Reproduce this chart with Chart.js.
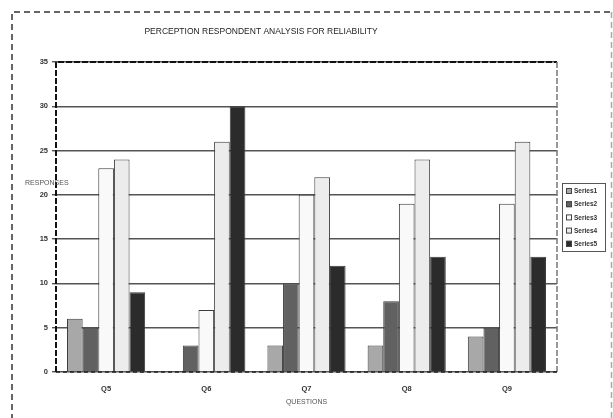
<!DOCTYPE html>
<html>
<head>
<meta charset="utf-8">
<script src="https://cdn.jsdelivr.net/npm/chart.js@4.4.1/dist/chart.umd.min.js"></script>
<style>
  html, body { margin: 0; padding: 0; background: #fff; }
  #wrap { width: 613px; height: 418px; position: relative; }
</style>
</head>
<body>
<div id="wrap"><canvas id="c" width="613" height="418"></canvas></div>
<script>
// Survey responses per question, one list per series
const questions = ['Q5', 'Q6', 'Q7', 'Q8', 'Q9'];
const seriesNames = ['Series1', 'Series2', 'Series3', 'Series4', 'Series5'];
const series1 = [6, 0, 3, 3, 4];
const series2 = [5, 3, 10, 8, 5];
const series3 = [23, 7, 20, 19, 19];
const series4 = [24, 26, 22, 24, 26];
const series5 = [9, 30, 12, 13, 13];
const yTicks = [0, 5, 10, 15, 20, 25, 30, 35];

const fills = ['#a8a8a8', '#616161', '#f9f9f9', '#ececec', '#2b2b2b'];
const values = [series1, series2, series3, series4, series5];

const FONT = '"Liberation Sans", Arial, sans-serif';

// Frames, titles and the boxed legend drawn around the plot
const decorations = {
  id: 'decorations',
  beforeDraw(chart) {
    const ctx = chart.ctx;
    ctx.save();
    ctx.fillStyle = '#fff';
    ctx.fillRect(0, 0, chart.width, chart.height);
    ctx.restore();
  },
  afterDraw(chart) {
    const ctx = chart.ctx;
    const a = chart.chartArea;
    ctx.save();

    // outer dashed frame
    ctx.strokeStyle = '#333';
    ctx.lineWidth = 1.5;
    ctx.setLineDash([6, 4]);
    ctx.beginPath();
    ctx.moveTo(12, 430);
    ctx.lineTo(12, 12);
    ctx.lineTo(chart.width - 1.5, 12);
    ctx.stroke();
    ctx.strokeStyle = '#aaa';
    ctx.beginPath();
    ctx.moveTo(chart.width - 1.5, 12);
    ctx.lineTo(chart.width - 1.5, 430);
    ctx.stroke();

    // dashed plot-area frame
    ctx.strokeStyle = '#111';
    ctx.lineWidth = 2;
    ctx.setLineDash([6, 2]);
    ctx.beginPath();
    ctx.moveTo(a.left, a.bottom);
    ctx.lineTo(a.left, a.top);
    ctx.lineTo(a.right, a.top);
    ctx.stroke();
    ctx.strokeStyle = '#777';
    ctx.lineWidth = 1.5;
    ctx.beginPath();
    ctx.moveTo(a.right, a.top);
    ctx.lineTo(a.right, a.bottom);
    ctx.stroke();
    ctx.strokeStyle = '#222';
    ctx.lineWidth = 1.5;
    ctx.setLineDash([4, 3]);
    ctx.beginPath();
    ctx.moveTo(a.left, a.bottom);
    ctx.lineTo(a.right, a.bottom);
    ctx.stroke();
    ctx.setLineDash([]);

    // chart title
    ctx.fillStyle = '#222';
    ctx.font = '8.5px ' + FONT;
    ctx.textAlign = 'center';
    ctx.textBaseline = 'middle';
    ctx.fillText('PERCEPTION RESPONDENT ANALYSIS FOR RELIABILITY', 261, 32);

    // axis titles
    ctx.fillStyle = '#555';
    ctx.font = '7px ' + FONT;
    ctx.textAlign = 'left';
    ctx.fillText('RESPONSES', 25, 183);
    ctx.textAlign = 'center';
    ctx.fillText('QUESTIONS', (a.left + a.right) / 2, 402);

    // legend
    const lx = 562, ly = 183, lw = 43, lh = 68;
    ctx.fillStyle = '#fff';
    ctx.fillRect(lx, ly, lw, lh);
    ctx.strokeStyle = '#555';
    ctx.lineWidth = 1;
    ctx.strokeRect(lx + 0.5, ly + 0.5, lw, lh);
    ctx.font = 'bold 6.5px ' + FONT;
    ctx.textAlign = 'left';
    chart.data.datasets.forEach((ds, i) => {
      const y = 191 + i * 13.2;
      ctx.fillStyle = ds.backgroundColor;
      ctx.fillRect(566, y - 3, 6, 6);
      ctx.strokeStyle = '#444';
      ctx.strokeRect(566.5, y - 2.5, 5, 5);
      ctx.fillStyle = '#333';
      ctx.fillText(ds.label, 574, y + 0.5);
    });
    ctx.restore();
  }
};

new Chart(document.getElementById('c'), {
  type: 'bar',
  data: {
    labels: questions,
    datasets: seriesNames.map((name, i) => ({
      label: name,
      data: values[i],
      backgroundColor: fills[i],
      borderColor: '#3a3a3a',
      borderWidth: 1,
      borderSkipped: 'bottom',
      categoryPercentage: 0.78,
      barPercentage: 1.0
    }))
  },
  options: {
    responsive: false,
    animation: false,
    devicePixelRatio: 1,
    layout: { padding: { top: 62, right: 56, left: 0, bottom: 0 } },
    plugins: {
      legend: { display: false },
      title: { display: false },
      tooltip: { enabled: false }
    },
    scales: {
      x: {
        grid: { display: false },
        border: { display: false },
        ticks: {
          color: '#333',
          font: { family: FONT, size: 7.5, weight: 'bold' },
          padding: 4
        },
        afterFit(scale) { scale.height = 46; }
      },
      y: {
        min: 0,
        max: 35,
        afterBuildTicks(scale) { scale.ticks = yTicks.map(v => ({ value: v })); },
        grid: { color: '#555', lineWidth: 1.4, tickLength: 4, drawTicks: true },
        border: { display: false },
        ticks: {
          color: '#333',
          font: { family: FONT, size: 7.5, weight: 'bold' },
          padding: 4
        },
        afterFit(scale) { scale.width = 56; }
      }
    }
  },
  plugins: [decorations]
});
</script>
</body>
</html>
